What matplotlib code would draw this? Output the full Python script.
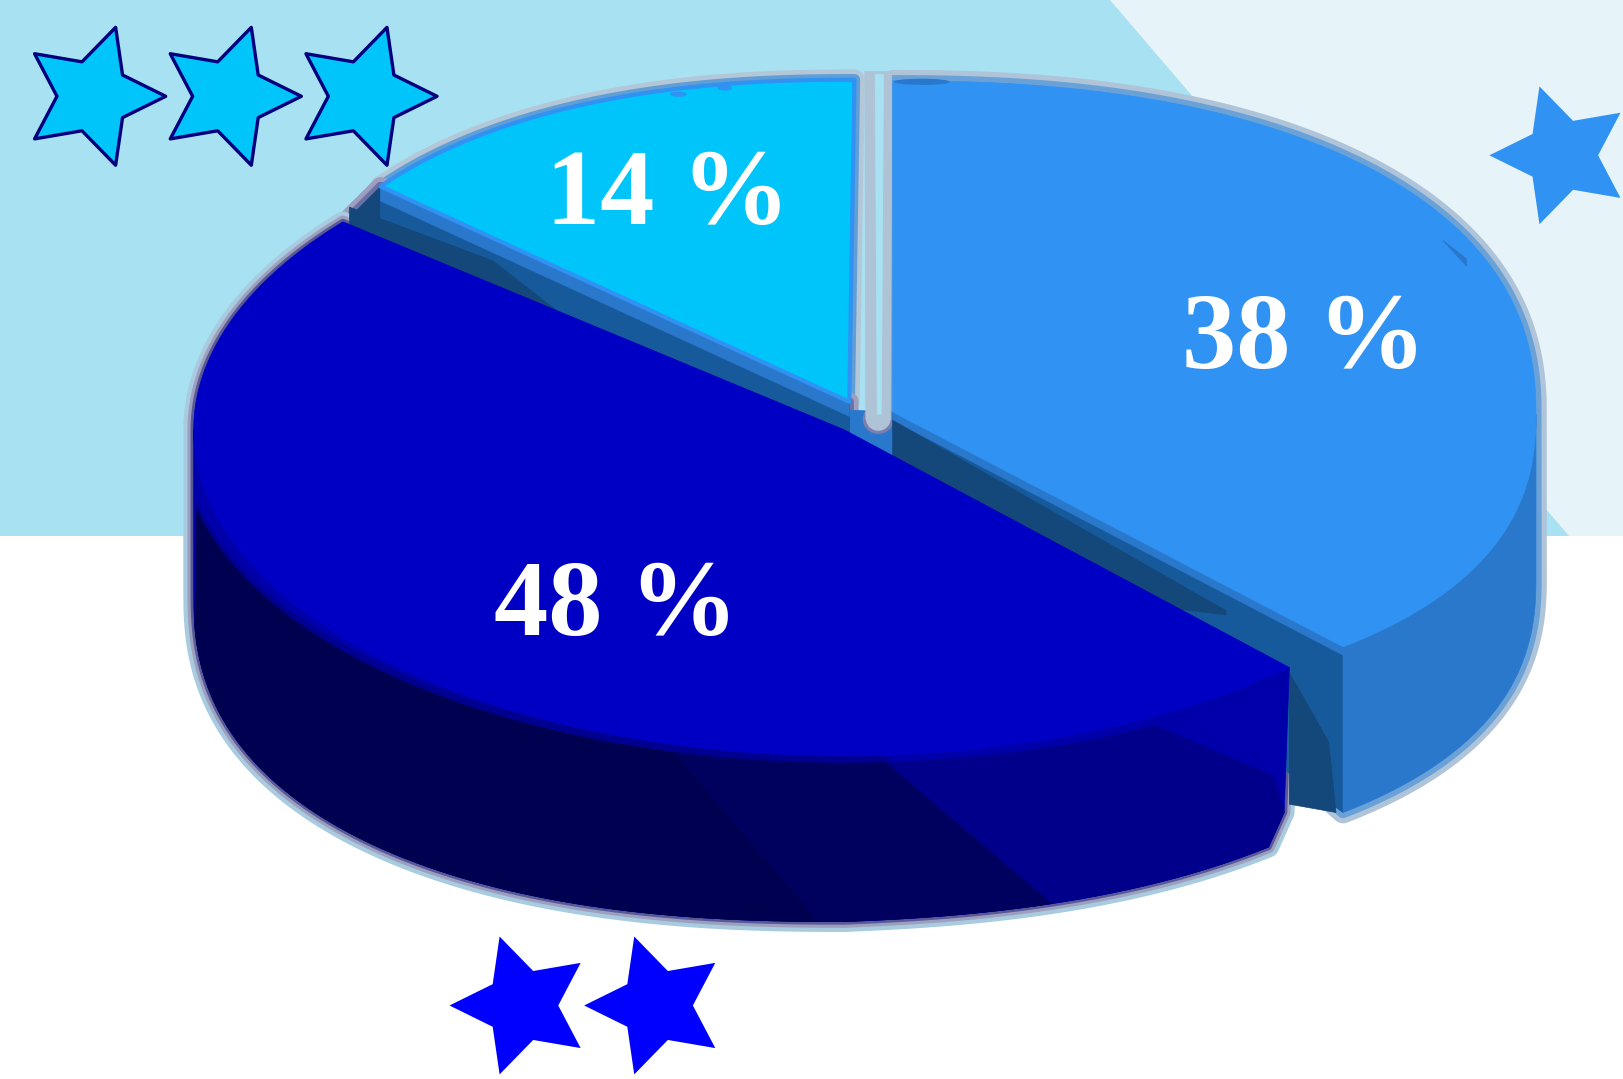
import numpy as np
from matplotlib import pyplot as plt
from matplotlib.patches import Polygon, Rectangle, Ellipse

# Set start values
labels = ["38 %", "48 %", "14 %"]
values = [38, 48, 14]
face_colors = ["#3092f3", "#0000c4", "#00c5fb"]
star_counts = [1, 2, 3]

# px in the shrunk reference, the axes use the same numbers
W, H = 1568, 1042
PX = 72 / 100 * 1624 / 1568

fig = plt.figure(figsize=(16.24, 10.79), dpi=100)
ax = fig.add_axes([0, 0, 1, 1])
ax.set_xlim(0, W)
ax.set_ylim(H, 0)
ax.axis("off")

# Slice angles, clockwise from the top
angles = 90 - np.cumsum([0] + values) * 3.6
a_lb = angles[0], angles[1]
a_blue = angles[1], angles[2]
a_cy = angles[2], angles[3]


def rim(c, rx, ry, a, n=2.0):
    a = np.radians(np.asarray(a, dtype=float))
    x = c[0] + rx * np.sign(np.cos(a)) * np.abs(np.cos(a)) ** (2 / n)
    y = c[1] - ry * np.sign(np.sin(a)) * np.abs(np.sin(a)) ** (2 / n)
    return np.column_stack([x, y])


def arc(c, rx, ry, a0, a1, n=2.0):
    return rim(c, rx, ry, np.linspace(a0, a1, 120), n)


def angle_at(c, rx, x, n=2.0):
    # lower half angle (negative) of the curve for a given x
    u = (x - c[0]) / rx
    return -np.degrees(np.arccos(np.sign(u) * np.abs(u) ** (n / 2)))


def fill(pts, color, z=2, **kw):
    ax.add_patch(Polygon(pts, closed=True, fc=color, ec=color, lw=0.5, zorder=z, joinstyle="round", **kw))


def halo(pts, colors, widths, z=1):
    for col, w in zip(colors, widths):
        ax.add_patch(Polygon(pts, closed=True, fc=col, ec=col, lw=w * PX, zorder=z, joinstyle="round"))


def star(cx, cy, r, start, fc, ec=None):
    t = np.radians(start + np.arange(10) * 36)
    rr = np.where(np.arange(10) % 2 == 0, r, r * 0.5)
    pts = np.column_stack([cx + rr * np.cos(t), cy - rr * np.sin(t)])
    ax.add_patch(Polygon(pts, closed=True, fc=fc, ec=ec if ec else fc, lw=2.4 if ec else 0, zorder=8, joinstyle="round"))


# Background
ax.add_patch(Rectangle((0, 0), W, 518, fc="#a8e2f2", ec="none", zorder=0))
ax.add_patch(Polygon([(1072, 0), (W, 0), (W, 518), (1515, 518)], fc="#e6f3f9", ec="none", zorder=0))

# Slice geometry
c_lb, rx_lb, ry_lb, n_lb = (862, 400), 621, 322, 2.3
c_cy, rx_cy, ry_cy, n_cy = (825, 395), 574, 318, 2.3
c_bl, rx_bl, ry_bl = (815, 415), 628, 315
depth_lb, depth_bl = 160, 160
n_bot = 2.35

apex_lb = np.array(c_lb) + (0, -2)
apex_cy = np.array(c_cy) + (-5, -7)


def lb_warp(p, dy=0):
    # lower right of the light slice is pulled in a bit
    f = (np.clip(p[:, 1] - c_lb[1], 0, None) / 245) ** 2
    return np.column_stack([p[:, 0] - 12 * f, p[:, 1] - 20 * f + dy])


# Light blue slice
lb_top = lb_warp(arc(c_lb, rx_lb, ry_lb, a_lb[0], a_lb[1], n_lb))
lb_end = lb_top[-1]
lb_wall_top = lb_warp(arc(c_lb, rx_lb, ry_lb, 0, a_lb[1], n_lb))
lb_wall_bot = lb_warp(arc(c_lb, rx_lb, ry_lb, 0, a_lb[1], n_lb), depth_lb)
lb_sil = np.vstack([lb_top[:np.argmin(np.abs(np.linspace(a_lb[0], a_lb[1], 120)))], lb_wall_bot, [apex_lb]])

# Cyan slice
cy_top = arc(c_cy, rx_cy, ry_cy, a_cy[1], a_cy[0], n_cy)
cy_left = cy_top[-1]
cy_poly = np.vstack([cy_top, [apex_cy]])
cy_cut = np.array([cy_left, apex_cy, apex_cy + (0, 30), cy_left + (-30, 30)])

# Blue slice
bl_a0, bl_a1 = a_blue[0], a_blue[1]
bl_face = np.vstack([arc(c_bl, rx_bl, ry_bl, bl_a0, bl_a1), [c_bl]])
bl_end = rim(c_bl, rx_bl, ry_bl, [bl_a0])[0]
corner = bl_end + (-5, 140)


def bl_bottom(a):
    p = rim((c_bl[0], c_bl[1] + depth_bl), rx_bl, ry_bl, a, n_bot)
    p[:, 1] -= 0.04 * np.clip(p[:, 0] - c_bl[0], 0, None)
    return p


def bot(x0, x1):
    return bl_bottom(np.linspace(angle_at(c_bl, rx_bl, x0, n_bot), angle_at(c_bl, rx_bl, x1, n_bot), 80))


x_wall_end = bl_end[0] - 20
wall_bot = np.vstack([[corner], bot(x_wall_end, c_bl[0]), bl_bottom(np.linspace(-90, -180, 80))])
wall_top = arc(c_bl, rx_bl, ry_bl, bl_a0, -180)
bl_sil = np.vstack([arc(c_bl, rx_bl, ry_bl, bl_a1, -180), wall_bot[::-1], [bl_end], [c_bl]])

# Floor that closes the notch between the two upper slices
floor = np.array([apex_cy + (0, 8), apex_lb + (0, 0), apex_lb + (0, 70), apex_cy + (0, 70)])

# Halos behind everything
halo(cy_poly, ["#b3c7d9", "#5f9fd6"], [20, 11], z=1)
halo(cy_cut, ["#9d9fbf", "#6c70a4"], [18, 9], z=1)
halo(lb_sil, ["#afc4d8", "#6aa2d8"], [21, 11], z=1)
halo(bl_sil, ["#a8cbe0", "#9d9fbf", "#575a96"], [20, 12, 6], z=1.2)
fill(floor, "#2a78cc", 1.25)

# The notch between the two upper slices, rounded at the bottom
x_notch = (apex_cy[0] + apex_lb[0]) / 2 + 7
y_notch = 405
ax.add_patch(Ellipse((x_notch, y_notch), 30, 28, fc="#7c7fae", ec="none", zorder=1.3))
ax.add_patch(Ellipse((x_notch, y_notch - 1), 24, 24, fc="#aec3d6", ec="none", zorder=1.4))
fill([(x_notch - 13, 69), (x_notch + 13, 69), (x_notch + 12, y_notch), (x_notch - 12, y_notch)], "#aec3d6", 1.4)
fill([(x_notch - 3, 72), (x_notch + 5, 72), (x_notch + 3, y_notch - 5), (x_notch - 1, y_notch - 5)], "#a8e2f2", 1.5)

# Cut walls of the upper slices, they go under the big slice


def cut(a, b, d0, d1, color, z):
    fill([a, b, b + (0, d1), a + (0, d0)], color, z)


cut(apex_lb, lb_end, 70, depth_lb, "#175a9b", 2)
cut(apex_lb, lb_end, 8, 8, "#2a78cc", 2.1)
t = 0.74
fill([apex_lb + (0, 8), apex_lb + t * (lb_end - apex_lb) + (0, 24), apex_lb + t * (lb_end - apex_lb) + (0, 28),
      apex_lb + 0.5 * (lb_end - apex_lb) + (0, 70), apex_lb + (0, 70)], "#14477a", 2.2)
fill([bl_end + (0, 5), bl_end + (38, 72), bl_end + (45, 140), bl_end + (0, 132)], "#14477a", 2.2)
fill(np.vstack([lb_wall_top, lb_wall_bot[::-1]]), "#2a78cc", 2.3)

fill(cy_cut, "#14477a", 2)
cut(apex_cy, cy_left, 70, 70, "#175a9b", 2)
cut(apex_cy, cy_left, 14, 14, "#2a78cc", 2.1)
fill([cy_left + (-30, 20), cy_left + 0.24 * (apex_cy - cy_left) + (0, 22), cy_left + 0.5 * (apex_cy - cy_left) + (0, 60),
      cy_left + (-30, 60)], "#14477a", 2.2)

# Top faces of the upper slices
fill(np.vstack([lb_top, [apex_lb]]), face_colors[0], 3)
ax.add_patch(Polygon(cy_poly, closed=True, fc=face_colors[2], ec="#3092f3", lw=4 * PX, zorder=3, joinstyle="round"))
ax.add_patch(Ellipse((655, 91), 16, 5, fc="#3092f3", ec="none", zorder=3.1))
ax.add_patch(Ellipse((700, 85), 14, 5, fc="#3092f3", ec="none", zorder=3.1))
ax.add_patch(Ellipse((890, 79), 54, 6, fc="#2a78cc", ec="none", zorder=3.1))
fill([(1393, 232), (1416, 250), (1416, 257)], "#2a78cc", 3.1)

# Side wall of the big slice, lighter to darker from right to left
wall = np.vstack([wall_top, wall_bot[::-1]])
fill(wall, "#0000aa", 4)

c_ring, rx_ring, ry_ring = (815, 425), 640, 312
x_dark, x_mid, x_right = 650, 855, 1115
x_bot_dark, x_bot_mid = 790, 1015


def ring(x0, x1):
    return arc(c_ring, rx_ring, ry_ring, angle_at(c_ring, rx_ring, x0), angle_at(c_ring, rx_ring, x1))


fill(np.vstack([ring(190, x_mid) + (0, -7), bot(x_bot_mid, 188)]), "#000090", 4.05)
fill(np.vstack([ring(x_mid, x_right), [bl_end + (-15, 105)], [corner], bot(x_wall_end, x_bot_mid)]), "#00008b", 4.1)
fill(np.vstack([ring(x_dark, x_mid), bot(x_bot_mid, x_bot_dark)]), "#00005f", 4.2)
fill(np.vstack([ring(190, x_dark), bot(x_bot_dark, 188)]), "#000050", 4.3)

# Top face of the big slice
fill(bl_face, face_colors[1], 5)

# Percent labels
text_pos = [(1259, 330), (595, 588), (645, 191)]
for lab, (x, y) in zip(labels, text_pos):
    ax.text(x, y, lab, color="white", fontsize=78, fontweight="bold", family="Liberation Serif",
            ha="center", va="center", zorder=9)

# Stars
for i in range(star_counts[2]):
    star(90 + i * 131, 93, 70, 0, "#00c5fb", "#00007f")
for i in range(star_counts[1]):
    star(504 + i * 130, 971, 70, 180, "#0000ff")
star(1508, 150, 70, 180, "#3092f3")

fig.savefig("out.png", dpi=100)
